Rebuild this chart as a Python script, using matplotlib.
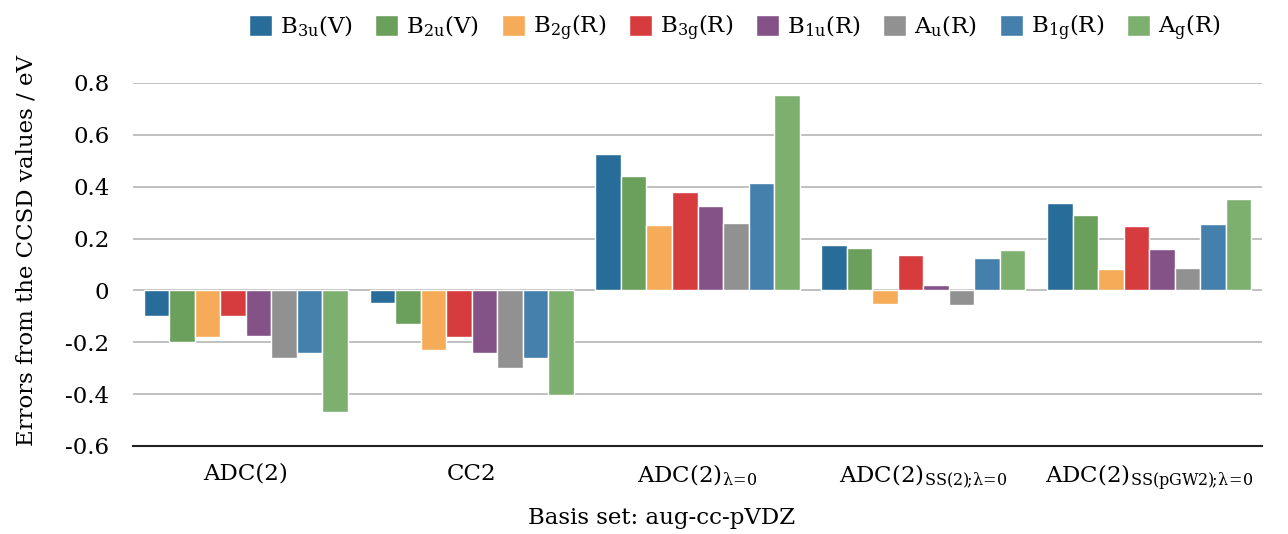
import numpy as np
from matplotlib import pyplot as plt

# 方法名和对称性标签
methods = ['ADC(2)', 'CC2', r'ADC(2)$_{\mathrm{\lambda\!=\!0}}$',
           r'ADC(2)$_{\mathrm{SS(2)\!;\!\lambda\!=\!0}}$',
           r'ADC(2)$_{\mathrm{SS(pGW2)\!;\!\lambda\!=\!0}}$']
states = [r'B$_{\mathrm{3u}}$(V)', r'B$_{\mathrm{2u}}$(V)', r'B$_{\mathrm{2g}}$(R)',
          r'B$_{\mathrm{3g}}$(R)', r'B$_{\mathrm{1u}}$(R)', r'A$_{\mathrm{u}}$(R)',
          r'B$_{\mathrm{1g}}$(R)', r'A$_{\mathrm{g}}$(R)']

# 各态相对 CCSD 的误差 (eV)，顺序同 methods
B3u_V = [-0.10, -0.05, 0.528, 0.174, 0.336]
B2u_V = [-0.20, -0.13, 0.441, 0.163, 0.292]
B2g_R = [-0.18, -0.23, 0.251, -0.054, 0.084]
B3g_R = [-0.10, -0.18, 0.378, 0.138, 0.248]
B1u_R = [-0.175, -0.24, 0.325, 0.022, 0.158]
Au_R = [-0.26, -0.30, 0.261, -0.055, 0.086]
B1g_R = [-0.24, -0.26, 0.414, 0.126, 0.255]
Ag_R = [-0.47, -0.405, 0.752, 0.156, 0.351]

yticks = [-0.6, -0.4, -0.2, 0, 0.2, 0.4, 0.6, 0.8]
ytick_labels = ['-0.6', '-0.4', '-0.2', '0', '0.2', '0.4', '0.6', '0.8']

colors = ['#286d99', '#6aa05c', '#f5ab57', '#d63b3e',
          '#855287', '#919191', '#4580ad', '#7db06f']

plt.rcParams['font.family'] = ['DejaVu Serif']
plt.rcParams['mathtext.fontset'] = 'dejavuserif'
fs = 16.5

fig = plt.figure(figsize=(12.88, 5.34), dpi=100)
ax = fig.add_axes([0.1033, 0.1648, 0.8765, 0.6798])

series = [B3u_V, B2u_V, B2g_R, B3g_R, B1u_R, Au_R, B1g_R, Ag_R]
x = np.arange(len(methods))
w = 0.113
for i, vals in enumerate(series):
    ax.bar(x + (i - 3.5) * w, vals, w, color=colors[i], label=states[i],
           edgecolor='white', linewidth=1.0, zorder=3)

ax.set_xlim(-0.5, 4.5)
ax.set_ylim(-0.6, 0.8)
ax.set_yticks(yticks)
ax.set_yticklabels(ytick_labels)
ax.set_xticks(x)
ax.set_xticklabels(methods)
ax.tick_params(axis='y', length=0, pad=17, labelsize=fs)
ax.tick_params(axis='x', length=0, pad=12, labelsize=fs)
ax.grid(axis='y', color='#bbbbbb', linewidth=1.3, zorder=0)

for s in ['top', 'right', 'left']:
    ax.spines[s].set_visible(False)
ax.spines['bottom'].set_color('#222222')
ax.spines['bottom'].set_linewidth(1.5)
ax.spines['bottom'].set_zorder(4)

fig.text(662 / 1288, 1 - 518 / 534, 'Basis set: aug-cc-pVDZ',
         ha='center', va='center', fontsize=fs)
fig.text(27 / 1288, 1 - 251 / 534, 'Errors from the CCSD values / eV',
         ha='center', va='center', rotation=90, fontsize=fs)

ax.legend(loc='center', bbox_to_anchor=(735 / 1288, 1 - 28 / 534),
          bbox_transform=fig.transFigure, ncol=8, frameon=False,
          fontsize=fs, handlelength=1.0, handleheight=1.0,
          handletextpad=0.35, columnspacing=1.0)

plt.savefig('out.png', dpi=100)
